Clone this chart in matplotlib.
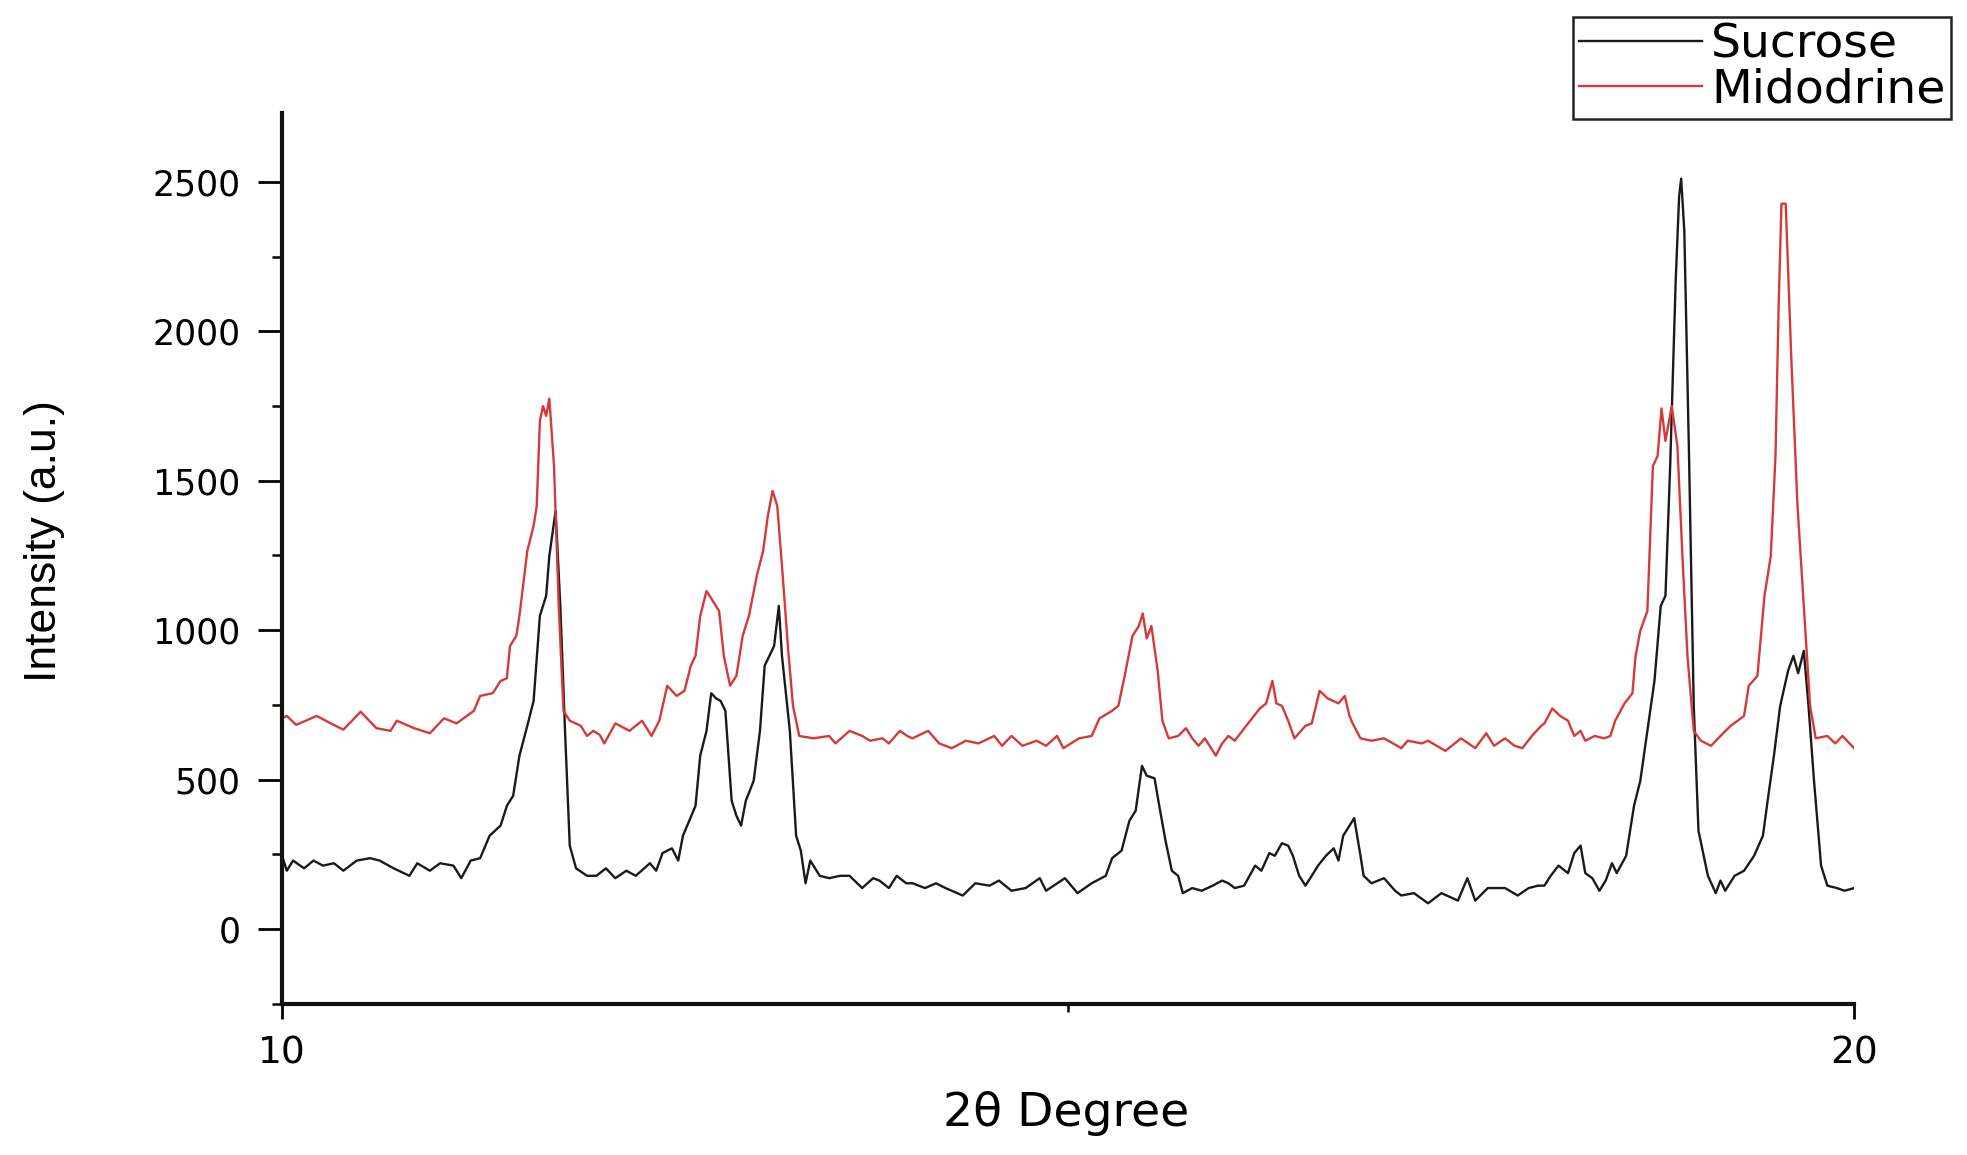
import matplotlib
matplotlib.use("Agg")
import matplotlib.pyplot as plt
from matplotlib.ticker import MultipleLocator, FixedLocator

# digitised XRD patterns (2theta in degrees, intensity in a.u.)
sucrose_2theta = [
    10.00, 10.03, 10.07, 10.14, 10.20, 10.26, 10.33, 10.39, 10.475, 10.56, 10.62, 10.71,
    10.81, 10.86, 10.94, 11.005, 11.09, 11.14, 11.20, 11.26, 11.32, 11.39, 11.43, 11.47,
    11.51, 11.56, 11.60, 11.64, 11.68, 11.70, 11.74, 11.77, 11.80, 11.83, 11.87, 11.94,
    12.00, 12.06, 12.12, 12.19, 12.25, 12.34, 12.38, 12.42, 12.48, 12.52, 12.55, 12.59,
    12.63, 12.66, 12.70, 12.73, 12.76, 12.79, 12.82, 12.86, 12.89, 12.92, 12.95, 13.00,
    13.04, 13.07, 13.10, 13.13, 13.16, 13.18, 13.23, 13.27, 13.30, 13.33, 13.36, 13.42,
    13.48, 13.55, 13.61, 13.69, 13.76, 13.80, 13.86, 13.91, 13.97,
    14.01, 14.09, 14.16, 14.22, 14.33, 14.41, 14.50, 14.56, 14.64, 14.73, 14.82, 14.86,
    14.98, 15.06, 15.15, 15.24, 15.28, 15.34, 15.39, 15.43, 15.47, 15.50, 15.55, 15.58,
    15.62, 15.66, 15.70, 15.73, 15.79, 15.85, 15.92, 15.98,
    16.02, 16.06, 16.12, 16.19, 16.23, 16.28, 16.315, 16.36, 16.40, 16.43, 16.47, 16.51,
    16.55, 16.59, 16.64, 16.69, 16.72, 16.75, 16.78, 16.82, 16.86, 16.88, 16.93, 17.01,
    17.08, 17.12, 17.20, 17.29, 17.375, 17.48, 17.54, 17.59, 17.67, 17.78, 17.86, 17.93,
    17.99,
    18.03, 18.07, 18.12, 18.18, 18.22, 18.26, 18.29, 18.335, 18.38, 18.42, 18.46, 18.49,
    18.55, 18.60, 18.64, 18.685, 18.73, 18.77, 18.80, 18.83, 18.865, 18.887, 18.90, 18.92,
    18.95, 18.98, 19.01, 19.07, 19.12, 19.15, 19.18, 19.24, 19.30, 19.364, 19.42, 19.45,
    19.49, 19.53, 19.58, 19.614, 19.644, 19.68, 19.71, 19.745, 19.79, 19.83, 19.89, 19.94,
    20.00,
]
sucrose_counts = [
    245, 195, 229, 203, 229, 212, 220, 195, 229, 237, 229, 203,
    178, 220, 195, 220, 212, 170, 229, 237, 312, 346, 412, 446,
    580, 680, 763, 1048, 1115, 1248, 1399, 1081, 663, 279, 203, 178,
    178, 203, 170, 195, 178, 220, 195, 254, 270, 229, 312, 362,
    412, 580, 663, 789, 772, 763, 730, 429, 379, 346, 429, 496,
    663, 881, 914, 947, 1081, 914, 663, 312, 262, 153, 229, 178,
    170, 178, 178, 137, 170, 162, 137, 178, 153,
    153, 137, 153, 137, 112, 153, 145, 162, 128, 137, 170, 128,
    170, 120, 153, 178, 237, 262, 362, 396, 546, 513, 504, 412,
    295, 195, 178, 120, 137, 128, 145, 162,
    153, 137, 145, 212, 195, 254, 245, 287, 279, 245, 178, 145,
    178, 212, 245, 270, 229, 312, 337, 371, 245, 178, 153, 170,
    128, 112, 120, 86, 120, 95, 170, 95, 137, 137, 112, 137,
    145,
    145, 178, 212, 187, 254, 279, 187, 170, 128, 162, 220, 187,
    245, 412, 496, 663, 830, 1081, 1115, 1549, 2168, 2452, 2511, 2335,
    1583, 747, 329, 178, 120, 162, 128, 178, 195, 245, 312, 429,
    580, 747, 864, 914, 856, 931, 747, 496, 212, 145, 137, 128,
    137,
]

midodrine_2theta = [
    10.00, 10.03, 10.09, 10.22, 10.31, 10.39, 10.50, 10.60, 10.69, 10.73, 10.84, 10.94,
    11.03, 11.11, 11.22, 11.26, 11.34, 11.39, 11.43, 11.45, 11.49, 11.51, 11.56, 11.60,
    11.62, 11.64, 11.66, 11.68, 11.70, 11.73, 11.76, 11.79, 11.83, 11.90, 11.94, 11.98,
    12.02, 12.05, 12.12, 12.21, 12.29, 12.35, 12.40, 12.45, 12.51, 12.56, 12.60, 12.63,
    12.66, 12.70, 12.74, 12.78, 12.81, 12.85, 12.89, 12.93, 12.97, 13.02, 13.06, 13.09,
    13.12, 13.15, 13.18, 13.22, 13.25, 13.29, 13.38, 13.48, 13.52, 13.61, 13.69, 13.74,
    13.82, 13.86, 13.93, 13.98,
    14.01, 14.11, 14.18, 14.26, 14.35, 14.43, 14.53, 14.58, 14.64, 14.71, 14.80, 14.86,
    14.93, 14.97, 15.07, 15.15, 15.20, 15.28, 15.32, 15.36, 15.41, 15.45, 15.475, 15.50,
    15.53, 15.57, 15.60, 15.64, 15.70, 15.75, 15.79, 15.83, 15.87, 15.94, 15.98,
    16.02, 16.06, 16.145, 16.22, 16.26, 16.30, 16.325, 16.36, 16.40, 16.44, 16.51, 16.55,
    16.60, 16.65, 16.72, 16.76, 16.79, 16.81, 16.86, 16.93, 17.01, 17.12, 17.16, 17.25,
    17.29, 17.40, 17.50, 17.59, 17.66, 17.71, 17.78, 17.84, 17.89, 17.95, 18.01,
    18.03, 18.08, 18.13, 18.18, 18.22, 18.26, 18.29, 18.35, 18.41, 18.45, 18.48, 18.54,
    18.59, 18.61, 18.64, 18.685, 18.72, 18.75, 18.775, 18.80, 18.84, 18.876, 18.908, 18.94,
    18.98, 19.025, 19.09, 19.15, 19.215, 19.30, 19.33, 19.385, 19.43, 19.47, 19.50, 19.52,
    19.538, 19.565, 19.60, 19.64, 19.68, 19.72, 19.756, 19.83, 19.88, 19.926, 20.00,
]
midodrine_counts = [
    705, 713, 683, 713, 688, 667, 727, 672, 663, 697, 672, 655,
    705, 688, 730, 780, 789, 830, 839, 947, 981, 1048, 1265, 1349,
    1416, 1700, 1750, 1717, 1775, 1549, 1081, 730, 697, 680, 646, 663,
    650, 621, 688, 663, 697, 646, 697, 814, 780, 797, 881, 914,
    1048, 1131, 1098, 1064, 914, 814, 847, 981, 1048, 1182, 1265, 1382,
    1466, 1416, 1215, 931, 747, 646, 638, 646, 621, 663, 646, 630,
    638, 621, 663, 645,
    638, 663, 621, 605, 630, 621, 646, 613, 646, 613, 630, 613,
    646, 605, 638, 646, 705, 730, 747, 847, 981, 1014, 1056, 972,
    1014, 864, 697, 638, 646, 672, 638, 613, 638, 580, 621,
    646, 630, 688, 738, 755, 830, 755, 747, 697, 638, 680, 688,
    797, 772, 755, 780, 713, 688, 638, 630, 638, 605, 630, 621,
    630, 596, 638, 605, 655, 613, 638, 613, 605, 646, 680,
    688, 738, 713, 697, 646, 663, 630, 646, 638, 646, 697, 755,
    789, 914, 998, 1064, 1549, 1583, 1742, 1633, 1750, 1616, 1248, 914,
    663, 630, 613, 646, 680, 713, 814, 847, 1115, 1248, 1583, 2084,
    2427, 2427, 1917, 1416, 1081, 747, 638, 646, 621, 646, 605,
]

x_ticks = [10, 20]
x_minor = [15]

fig = plt.figure(figsize=(19.67, 11.55), dpi=100)
ax = fig.add_axes([0.1434, 0.1310, 0.7992, 0.7710])

ax.plot(sucrose_2theta, sucrose_counts, color='#1a1a1a', lw=1.7, label='Sucrose')
ax.plot(midodrine_2theta, midodrine_counts, color='#d43a3a', lw=1.7, label='Midodrine')

ax.set_xlim(10, 20)
ax.set_ylim(-250, 2730)

ax.xaxis.set_major_locator(FixedLocator(x_ticks))
ax.xaxis.set_minor_locator(FixedLocator(x_minor))
ax.yaxis.set_major_locator(MultipleLocator(500))
ax.yaxis.set_minor_locator(MultipleLocator(250))

for side in ['top', 'right']:
    ax.spines[side].set_visible(False)
for side in ['left', 'bottom']:
    ax.spines[side].set_linewidth(3.0)
    ax.spines[side].set_color('#111111')

ax.tick_params(axis='y', which='major', direction='out', length=17, width=2.0,
               labelsize=25, pad=13)
ax.tick_params(axis='y', which='minor', direction='out', length=7.5, width=1.8)
ax.tick_params(axis='x', which='major', direction='out', length=11, width=2.0,
               labelsize=27, pad=12)
ax.tick_params(axis='x', which='minor', direction='out', length=6, width=1.8)

ax.set_xlabel('2θ Degree', fontsize=34, va='top')
ax.xaxis.set_label_coords(0.499, -0.098)
ax.set_ylabel('Intensity (a.u.)', fontsize=32, family=['Liberation Sans', 'DejaVu Sans'])
ax.yaxis.set_label_coords(-0.138, 0.52)

leg = fig.legend(loc='upper right', bbox_to_anchor=(0.992, 0.985), fontsize=34,
                 frameon=True, fancybox=False, edgecolor='#222222', framealpha=1,
                 handlelength=2.6, handletextpad=0.2, borderpad=0.12,
                 labelspacing=0.0, borderaxespad=0)
leg.get_frame().set_linewidth(1.8)

fig.savefig('out.png', dpi=100)
